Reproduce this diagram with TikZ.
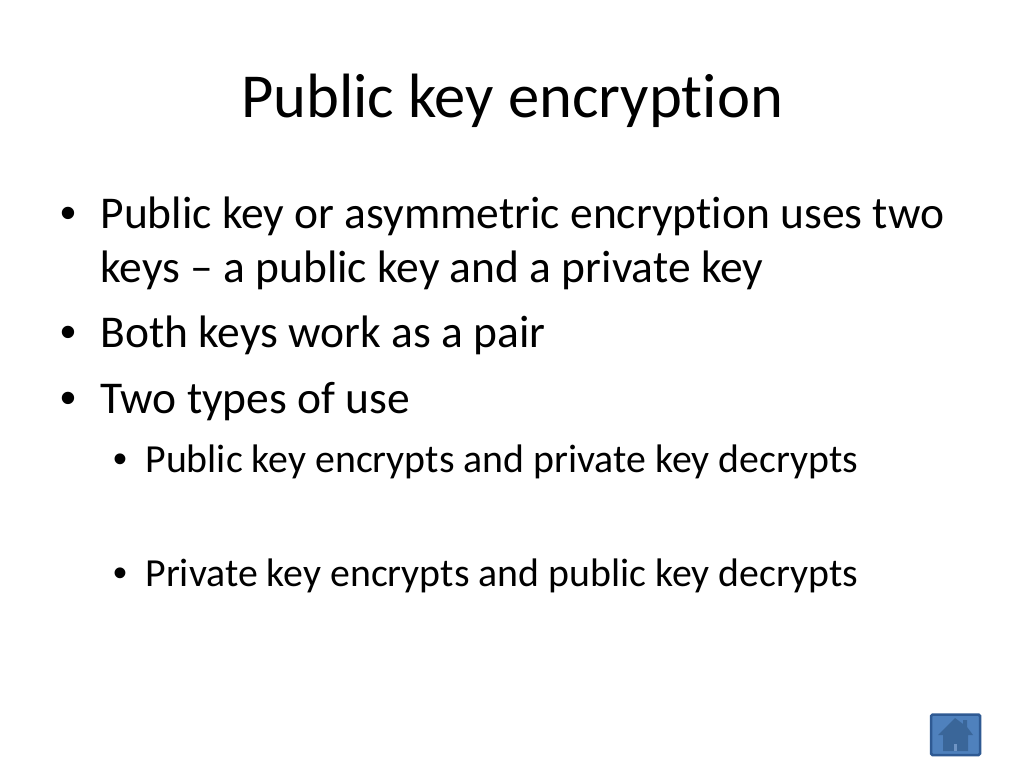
\documentclass[tikz,border=0pt]{standalone}
\usepackage{fontspec}
\setmainfont[Ligatures=NoCommon,RawFeature={-liga;-clig;-dlig}]{Carlito}
\newfontfamily\bulletfont{Liberation Sans}
\definecolor{btnedge}{HTML}{2F5A93}
\definecolor{btnfill}{HTML}{4F81BD}
\definecolor{btnhouse}{HTML}{3A6699}
\definecolor{btndoor}{HTML}{6F94C4}
\tikzset{
  txt/.style={anchor=base west,inner sep=0pt,outer sep=0pt,text=black},
  lvla/.style={txt,font=\fontsize{45.5}{45.5}\selectfont},
  lvlb/.style={txt,font=\fontsize{39.8}{39.8}\selectfont},
  bula/.style={txt,font=\bulletfont\fontsize{45.5}{45.5}\selectfont},
  bulb/.style={txt,font=\bulletfont\fontsize{39.8}{39.8}\selectfont},
  ttl/.style={anchor=base,inner sep=0pt,font=\fontsize{62.6}{62.6}\selectfont}
}
\begin{document}
\begin{tikzpicture}[x=1pt,y=-1pt]
\useasboundingbox (0,0) rectangle (1024,768);
\fill[white] (0,0) rectangle (1024,768);
\node[ttl] (title) at (512,117) {Public key encryption};
\node[bula] (b1) at (60,228) {•};
\node[lvla] (t1) at (100.5,228) {Public key or asymmetric encryption uses two};
\node[lvla] (t1b) at (100.5,282) {keys – a public key and a private key};
\node[bula] (b2) at (60,347.5) {•};
\node[lvla] (t2) at (100.5,347.5) {Both keys work as a pair};
\node[bula] (b3) at (60,413) {•};
\node[lvla] (t3) at (100.5,413) {Two types of use};
\node[bulb] (b4) at (113.5,472) {•};
\node[lvlb] (t4) at (145.5,472) {Public key encrypts and private key decrypts};
\node[bulb] (b5) at (113.5,586.5) {•};
\node[lvlb] (t5) at (145.5,586.5) {Private key encrypts and public key decrypts};
% home button
\draw[line width=2.5pt,draw=btnedge,fill=btnfill,rounded corners=1.5pt] (931,714.5) rectangle (980,755);
\fill[btnhouse] (955,718) -- (963,724) -- (963,720) -- (967,720) -- (967,727) -- (973,735) -- (968,735) -- (968,751) -- (943,751) -- (943,735) -- (938,735) -- cycle;
\fill[btndoor] (954,744) rectangle (956.5,751);
\end{tikzpicture}
\end{document}
